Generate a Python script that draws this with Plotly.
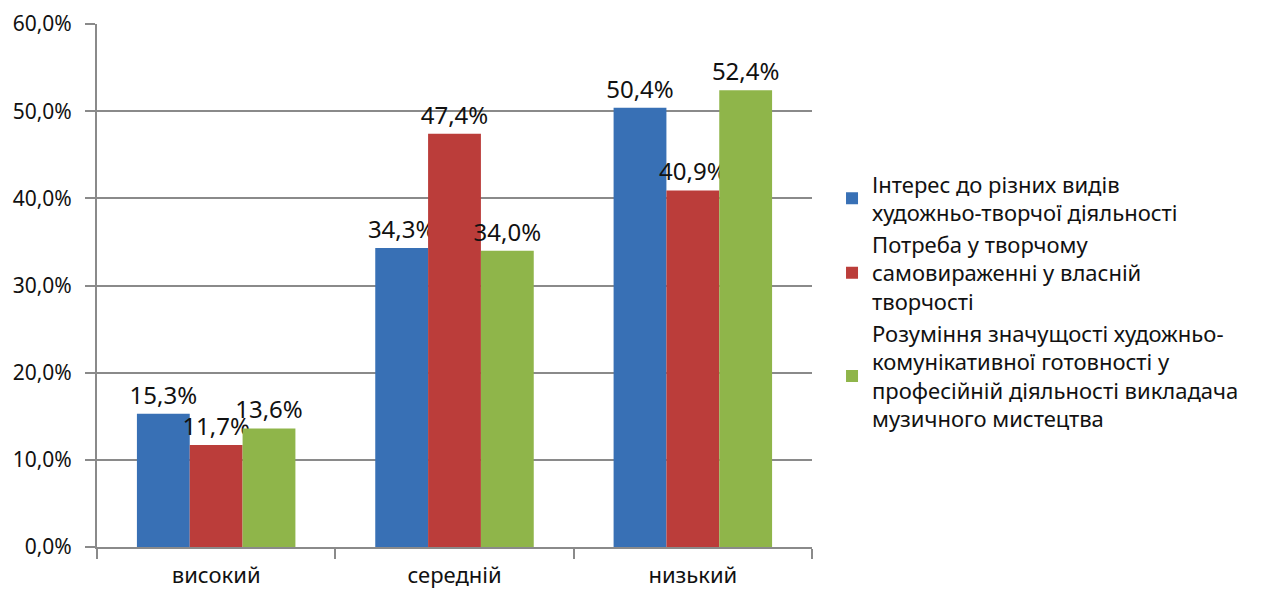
import plotly.graph_objects as go

categories = ["високий", "середній", "низький"]
series_names = [
    "Інтерес до різних видів<br>художньо-творчої діяльності",
    "Потреба у творчому<br>самовираженні у власній<br>творчості",
    "Розуміння значущості художньо-<br>комунікативної готовності у<br>професійній діяльності викладача<br>музичного мистецтва",
]
interest = [0.153, 0.343, 0.504]
need = [0.117, 0.474, 0.409]
understanding = [0.136, 0.340, 0.524]
colors = ["#3870b5", "#bb3d3a", "#8fb54a"]

FONT = "Noto Sans"
fig = go.Figure()
for name, vals, col in zip(series_names, [interest, need, understanding], colors):
    fig.add_trace(go.Bar(
        x=categories, y=vals, name=name,
        marker=dict(color=col, line=dict(width=0)),
        texttemplate="%{y:.1%}", textposition="outside",
        textfont=dict(size=24, color="#111111", family=FONT),
        constraintext="none", cliponaxis=False,
    ))

fig.update_layout(
    width=1274, height=589,
    margin=dict(l=97, r=462, t=24, b=42),
    paper_bgcolor="white", plot_bgcolor="white",
    separators=", ",
    barmode="group", bargap=0.335, bargroupgap=0,
    font=dict(family=FONT, size=21, color="#111111"),
    showlegend=True,
    legend=dict(
        x=1.028, xanchor="left", y=0.469, yanchor="middle",
        font=dict(size=22, family=FONT, color="#111111"),
        tracegroupgap=2, itemwidth=30,
    ),
)
fig.update_yaxes(
    range=[0, 0.6], dtick=0.1, tickformat=".1%",
    showgrid=True, gridcolor="#8a8a8a", gridwidth=1.5,
    showline=True, linecolor="#8a8a8a", linewidth=2,
    ticks="outside", ticklen=10, tickcolor="#8a8a8a", tickwidth=1.5,
    zeroline=False, ticklabelstandoff=9, automargin=False,
    tickfont=dict(size=21, family=FONT, color="#111111"),
)
fig.update_xaxes(
    showline=True, linecolor="#8a8a8a", linewidth=2,
    ticks="outside", tickson="boundaries", ticklen=10, tickcolor="#8a8a8a", tickwidth=1.5,
    ticklabelstandoff=8, automargin=False,
    tickfont=dict(size=22, family=FONT, color="#111111"),
)

fig.write_html("out.html")
